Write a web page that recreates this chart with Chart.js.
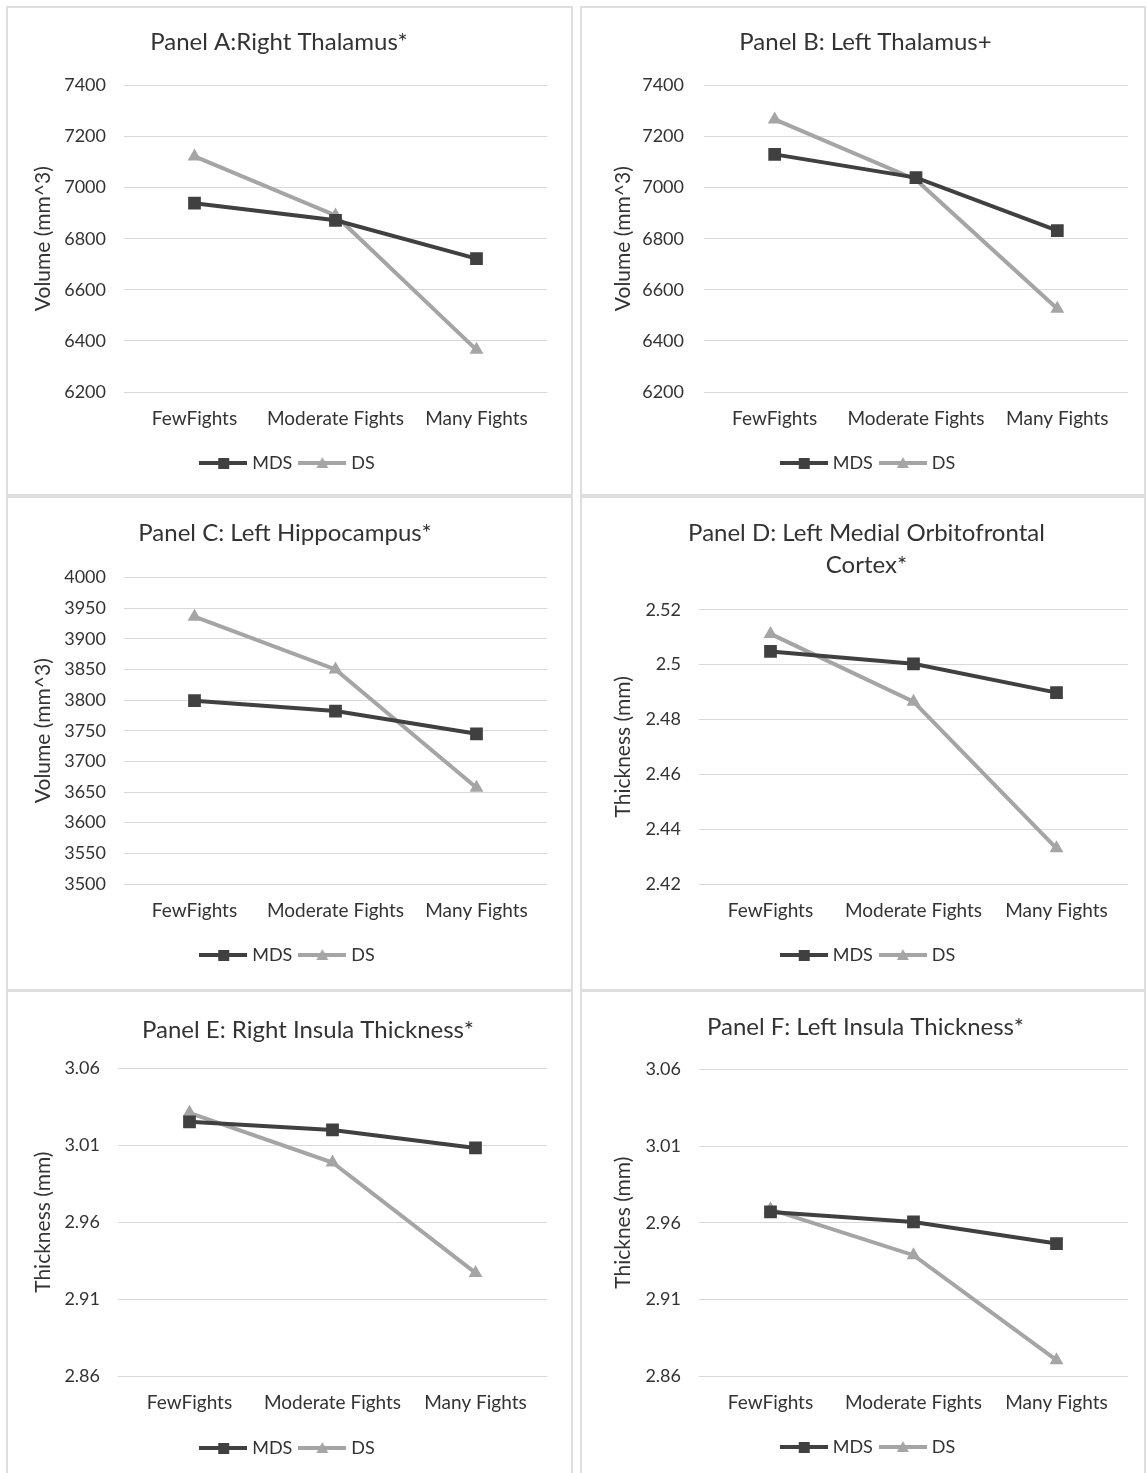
<!DOCTYPE html>
<html>
<head>
<meta charset="utf-8">
<script src="https://cdn.jsdelivr.net/npm/chart.js"></script>
<style>
  html, body { margin: 0; padding: 0; background: #fff; }
  body { width: 1147px; height: 1473px; position: relative; overflow: hidden; }
  .panel { position: absolute; box-sizing: border-box; box-shadow: inset 0 0 0 2px #dedede; }
  .panel canvas { position: absolute; left: 0; top: 0; }
</style>
</head>
<body>
<div class="panel" style="left:6px;top:6px;width:567px;height:490px"><canvas id="cA"></canvas></div>
<div class="panel" style="left:580px;top:6px;width:566px;height:490px"><canvas id="cB"></canvas></div>
<div class="panel" style="left:6px;top:496px;width:567px;height:495px"><canvas id="cC"></canvas></div>
<div class="panel" style="left:580px;top:496px;width:566px;height:495px"><canvas id="cD"></canvas></div>
<div class="panel" style="left:6px;top:990px;width:567px;height:486px"><canvas id="cE"></canvas></div>
<div class="panel" style="left:580px;top:990px;width:566px;height:486px"><canvas id="cF"></canvas></div>
<script>
// values (group means per fight frequency)
const categories = ['FewFights', 'Moderate Fights', 'Many Fights'];
const seriesNames = ['MDS', 'DS'];

const panelTitles = [
  'Panel A:Right Thalamus*',
  'Panel B: Left Thalamus+',
  'Panel C: Left Hippocampus*',
  ['Panel D: Left Medial Orbitofrontal', 'Cortex*'],
  'Panel E: Right Insula Thickness*',
  'Panel F: Left Insula Thickness*'
];
const yTitles = ['Volume (mm^3)', 'Volume (mm^3)', 'Volume (mm^3)', 'Thickness (mm)', 'Thickness (mm)', 'Thicknes (mm)'];

const mdsA = [6939, 6872, 6722];
const dsA  = [7122, 6891, 6365];
const mdsB = [7130, 7039, 6832];
const dsB  = [7267, 7031, 6526];
const mdsC = [3799, 3782, 3745];
const dsC  = [3936, 3850, 3657];
const mdsD = [2.5048, 2.5003, 2.4898];
const dsD  = [2.5112, 2.4865, 2.4330];
const mdsE = [3.0253, 3.0200, 3.0083];
const dsE  = [3.0311, 2.9988, 2.9270];
const mdsF = [2.9670, 2.9605, 2.9464];
const dsF  = [2.9687, 2.9388, 2.8703];

const yMin  = [6200, 6200, 3500, 2.42, 2.86, 2.86];
const yMax  = [7400, 7400, 4000, 2.52, 3.06, 3.06];
const yStep = [200, 200, 50, 0.02, 0.05, 0.05];

const mdsSeries = [mdsA, mdsB, mdsC, mdsD, mdsE, mdsF];
const dsSeries  = [dsA, dsB, dsC, dsD, dsE, dsF];

// per panel placement, canvas-relative px
const frames = [
  { id: 'cA', left: 118, padL: 25, padR: 26, tTop: 20, tBot: 27, titleDx: -10, xH: 52, padB: 14, tickPad: 18 },
  { id: 'cB', left: 124, padL: 31, padR: 18, tTop: 20, tBot: 27, titleDx: -4, xH: 52, padB: 14, tickPad: 20 },
  { id: 'cC', left: 118, padL: 25, padR: 26, tTop: 21, tBot: 28, titleDx: -4, xH: 52, padB: 17, tickPad: 18 },
  { id: 'cD', left: 119, padL: 31, padR: 18, tTop: 21, tBot: 28, titleDx: -3, xH: 52, padB: 17, tickPad: 18 },
  { id: 'cE', left: 112, padL: 25, padR: 26, tTop: 24, tBot: 22, titleDx: 19, xH: 53, padB: 9, tickPad: 18 },
  { id: 'cF', left: 119, padL: 31, padR: 18, tTop: 21, tBot: 26, titleDx: -4, xH: 52, padB: 10, tickPad: 18 }
];

const darkGrey = '#404040';
const lightGrey = '#a5a5a5';
const textColor = '#333333';
const fontFamily = 'Lato, "Open Sans", sans-serif';

// legend icon: short line with the marker in the middle, like Excel
function legendIcon(color, shape) {
  const c = document.createElement('canvas');
  c.width = 48; c.height = 16;
  const g = c.getContext('2d');
  g.strokeStyle = color; g.lineWidth = 4;
  g.beginPath(); g.moveTo(0, 8); g.lineTo(48, 8); g.stroke();
  g.fillStyle = color;
  if (shape === 'rect') {
    g.fillRect(19, 3, 11, 11);
  } else {
    g.beginPath(); g.moveTo(24, 2); g.lineTo(30, 13); g.lineTo(18, 13); g.closePath(); g.fill();
  }
  return c;
}
const icons = [legendIcon(darkGrey, 'rect'), legendIcon(lightGrey, 'triangle')];

function tickText(v) {
  return String(+(+v).toFixed(3));
}

function makePanel(i) {
  const f = frames[i];
  new Chart(document.getElementById(f.id), {
    type: 'line',
    data: {
      labels: categories,
      datasets: [
        {
          label: seriesNames[0],
          data: mdsSeries[i],
          borderColor: darkGrey,
          backgroundColor: darkGrey,
          borderWidth: 4,
          pointStyle: 'rect',
          pointRadius: 9,
          pointBorderWidth: 0,
          tension: 0
        },
        {
          label: seriesNames[1],
          data: dsSeries[i],
          borderColor: lightGrey,
          backgroundColor: lightGrey,
          borderWidth: 4,
          pointStyle: 'triangle',
          pointRadius: 8,
          pointBorderWidth: 0,
          tension: 0
        }
      ]
    },
    options: {
      responsive: true,
      maintainAspectRatio: false,
      animation: false,
      layout: { padding: { left: f.padL, right: f.padR, top: 0, bottom: f.padB } },
      plugins: {
        title: {
          display: true,
          text: panelTitles[i],
          color: textColor,
          font: { family: fontFamily, size: 24, weight: 'normal', lineHeight: 1.35 },
          padding: { top: f.tTop, bottom: f.tBot }
        },
        legend: {
          position: 'bottom',
          labels: {
            usePointStyle: true,
            pointStyleWidth: 40,
            padding: 10,
            color: textColor,
            font: { family: fontFamily, size: 18 },
            generateLabels: chart => chart.data.datasets.map((ds, k) => ({
              text: ds.label,
              pointStyle: icons[k],
              fillStyle: ds.borderColor,
              strokeStyle: ds.borderColor,
              lineWidth: 0,
              fontColor: textColor,
              datasetIndex: k
            }))
          }
        },
        tooltip: { enabled: false }
      },
      scales: {
        x: {
          offset: true,
          grid: { display: false, drawTicks: false },
          border: { display: false },
          ticks: {
            color: textColor,
            font: { family: fontFamily, size: 19 },
            padding: 15,
            maxRotation: 0,
            autoSkip: false
          },
          afterFit: s => { s.height = f.xH; }
        },
        y: {
          min: yMin[i],
          max: yMax[i],
          grid: { color: '#d9d9d9', lineWidth: 1, drawTicks: false },
          border: { display: false },
          ticks: {
            stepSize: yStep[i],
            color: textColor,
            font: { family: fontFamily, size: 18 },
            padding: f.tickPad,
            callback: v => tickText(v)
          },
          title: {
            display: true,
            text: yTitles[i],
            color: textColor,
            font: { family: fontFamily, size: 21 },
            padding: 0
          },
          afterFit: s => { s.width = f.left - f.padL; }
        }
      }
    },
    plugins: [{
      // nudge the title sideways to sit where the original one does
      id: 'titleNudge',
      afterLayout(chart) {
        if (chart.titleBlock) {
          chart.titleBlock.left += f.titleDx;
          chart.titleBlock.right += f.titleDx;
        }
      }
    }]
  });
}

for (let i = 0; i < frames.length; i++) makePanel(i);
</script>
</body>
</html>
